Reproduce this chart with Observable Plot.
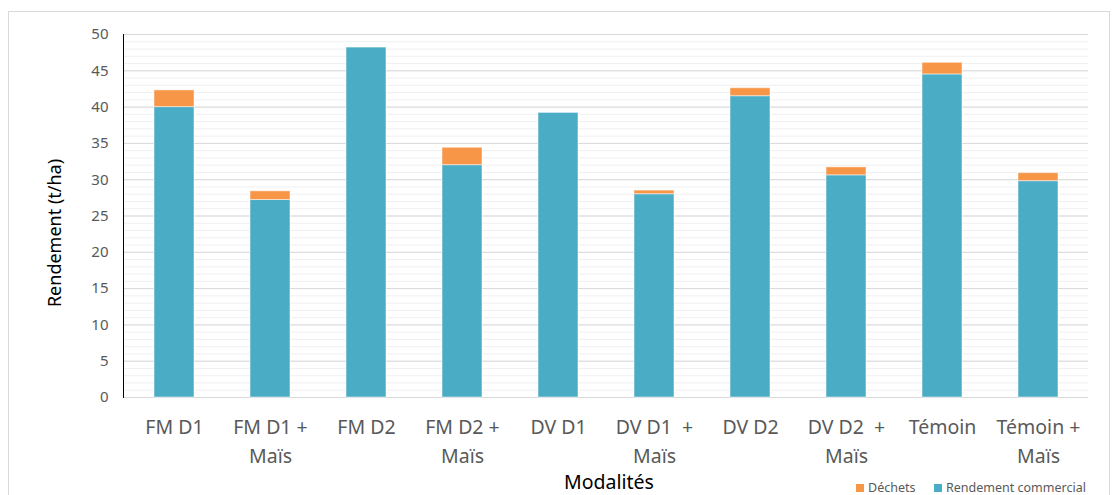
<!DOCTYPE html>
<html><head><meta charset="utf-8">
<script src="https://cdn.jsdelivr.net/npm/d3@7"></script>
<script src="https://cdn.jsdelivr.net/npm/@observablehq/plot@0.6"></script>
<style>
body{margin:0;background:#fff;font-family:"Noto Sans",sans-serif;}
#wrap{position:relative;width:1118px;height:495px;overflow:hidden;}
#border{position:absolute;left:8px;top:11px;width:1102px;height:600px;border:1px solid #d9d9d9;box-sizing:border-box;}
#chart{position:absolute;left:0;top:0;}
.leg{position:absolute;top:481px;height:14px;line-height:14px;font-size:12.5px;color:#595959;display:flex;align-items:center;white-space:nowrap;}
.sw{display:inline-block;width:8px;height:8px;margin-right:4px;}
</style></head>
<body>
<div id="wrap">
<div id="border"></div>
<div id="chart"></div>
<div class="leg" style="left:856px"><span class="sw" style="background:#F79646"></span>Déchets</div>
<div class="leg" style="left:934px"><span class="sw" style="background:#4BACC6"></span>Rendement commercial</div>
</div>
<script>
const categories = ["FM D1","FM D1 +\nMaïs","FM D2","FM D2 +\nMaïs","DV D1","DV D1  +\nMaïs","DV D2","DV D2  +\nMaïs","Témoin","Témoin +\nMaïs"];
const commercial = [40.0,27.2,48.2,32.0,39.2,28.0,41.5,30.6,44.5,29.8];
const dechets = [2.3,1.2,0,2.4,0,0.5,1.1,1.1,1.6,1.1];
const series = ["Rendement commercial","Déchets"];
const colors = ["#4BACC6","#F79646"];
const yTicks = d3.range(0,51,5);
const yMinor = d3.range(0,51,1);

const rows = [];
categories.forEach((c,i)=>{
  rows.push({cat:c, serie:series[0], v:commercial[i]});
  rows.push({cat:c, serie:series[1], v:dechets[i]});
});

const chart = Plot.plot({
  width:1118, height:495,
  marginLeft:123, marginRight:30, marginTop:34, marginBottom:98,
  style:{fontFamily:"Noto Sans, sans-serif", background:"transparent"},
  x:{domain:categories, paddingInner:0.585, paddingOuter:0.2925, label:null},
  y:{domain:[0,50], label:null},
  color:{domain:series, range:colors},
  marks:[
    Plot.ruleY(yMinor,{stroke:"#f0f0f0", strokeWidth:1}),
    Plot.ruleY(yTicks,{stroke:"#d9d9d9", strokeWidth:1}),
    Plot.barY(rows,{x:"cat", y:"v", fill:"serie", stroke:"#ffffff", strokeOpacity:0.5, strokeWidth:1}),
    Plot.frame({anchor:"left", stroke:"#000"}),
    Plot.axisY({ticks:yTicks, tickSize:0, tickPadding:15, fontSize:15, color:"#595959", label:null}),
    Plot.axisX({tickSize:0, tickPadding:17, fontSize:19.5, lineHeight:1.44, color:"#595959", label:null}),
    Plot.text(["Rendement (t/ha)"],{frameAnchor:"left", textAnchor:"middle", lineAnchor:"middle", dx:-68, dy:17, rotate:-90, fontSize:18, fill:"#000"}),
    Plot.text(["Modalités"],{frameAnchor:"bottom", textAnchor:"middle", lineAnchor:"middle", dx:3, dy:85, fontSize:19.5, fill:"#000"})
  ]
});
document.getElementById("chart").appendChild(chart);
</script>
</body></html>
